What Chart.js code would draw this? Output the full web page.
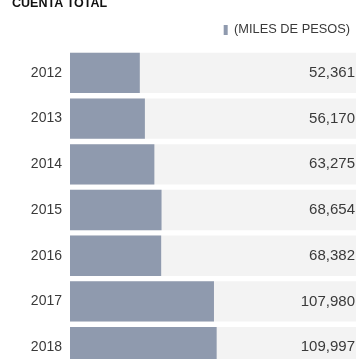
<!DOCTYPE html>
<html>
<head>
<meta charset="utf-8">
<script src="https://cdn.jsdelivr.net/npm/chart.js@4"></script>
<style>
  html, body { margin: 0; padding: 0; background: #fff; overflow: hidden; }
  #wrap { width: 356px; height: 372px; }
</style>
</head>
<body>
<div id="wrap"><canvas id="myChart" width="356" height="372"></canvas></div>
<script>
const years = ['2012', '2013', '2014', '2015', '2016', '2017', '2018'];
const totals = [52361, 56170, 63275, 68654, 68382, 107980, 109997];
const valueLabels = ['52,361', '56,170', '63,275', '68,654', '68,382', '107,980', '109,997'];
const chartTitle = 'CUENTA TOTAL';
const axisMax = 214500;
const band = years.map(function () { return axisMax; });

const font = "'Liberation Sans', Arial, sans-serif";

// title (cut off at the top like the original) and the numbers at the right of each row
const textPlugin = {
    id: 'texts',
    afterInit: function (chart) {
        // leave some room between the legend and the bars
        const lg = chart.legend;
        const fit = lg.fit;
        lg.fit = function () {
            fit.call(this);
            this.height += 3.75;
        };
    },
    afterDatasetsDraw: function (chart) {
        const ctx = chart.ctx;
        const meta = chart.getDatasetMeta(0);
        ctx.save();
        ctx.font = 'bold 12.5px ' + font;
        ctx.fillStyle = '#111';
        ctx.textAlign = 'left';
        ctx.textBaseline = 'alphabetic';
        ctx.fillText(chartTitle, 12, 6.5);

        ctx.font = '15px ' + font;
        ctx.fillStyle = '#3a3a3a';
        ctx.textAlign = 'right';
        ctx.textBaseline = 'middle';
        meta.data.forEach(function (bar, i) {
            ctx.fillText(valueLabels[i], chart.chartArea.right - 1, bar.y);
        });
        ctx.restore();
    }
};

new Chart(document.getElementById('myChart'), {
    type: 'bar',
    data: {
        labels: years,
        datasets: [{
            label: '(MILES DE PESOS)',
            data: totals,
            backgroundColor: '#8f9aae',
            barPercentage: 0.883,
            categoryPercentage: 1,
            grouped: false,
            order: 1
        }, {
            label: 'band',
            data: band,
            backgroundColor: '#f3f3f3',
            barPercentage: 0.883,
            categoryPercentage: 1,
            grouped: false,
            order: 2
        }]
    },
    options: {
        indexAxis: 'y',
        responsive: false,
        animation: false,
        layout: { padding: { left: 0, right: 0, top: 17.5, bottom: 2 } },
        plugins: {
            title: { display: false },
            legend: {
                display: true,
                position: 'top',
                align: 'end',
                labels: {
                    filter: function (item) { return item.datasetIndex === 0; },
                    boxWidth: 4,
                    boxHeight: 10,
                    color: '#3a3a3a',
                    font: { size: 12.8, family: font },
                    padding: 6
                }
            },
            tooltip: { enabled: false }
        },
        scales: {
            x: {
                display: false,
                min: 0,
                max: axisMax
            },
            y: {
                afterFit: function (scale) {
                    scale.width = 70;
                    scale.paddingTop = 0;
                    scale.paddingBottom = 0;
                },
                grid: { display: false },
                border: { display: false },
                ticks: {
                    color: '#3a3a3a',
                    padding: 0,
                    font: { size: 14, family: font }
                }
            }
        }
    },
    plugins: [textPlugin]
});
</script>
</body>
</html>
